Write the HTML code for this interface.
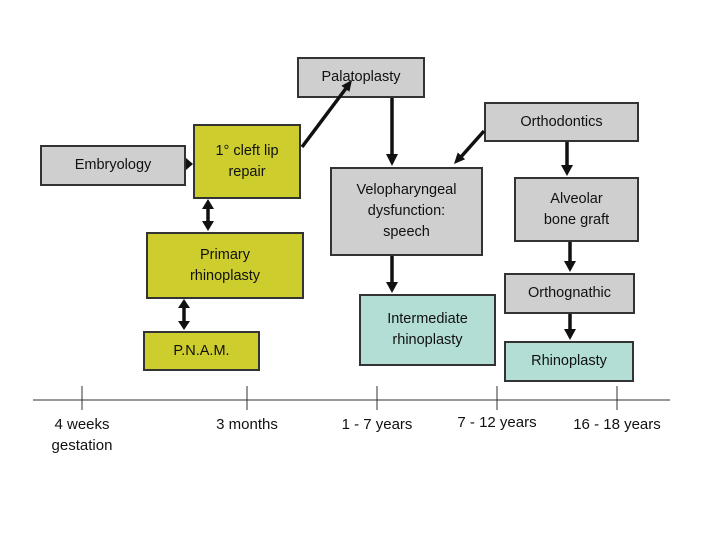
<!DOCTYPE html><html><head><style>
body{margin:0;width:720px;height:540px;background:#fff;overflow:hidden;position:relative;font-family:"Liberation Sans",sans-serif}
.b{position:absolute;box-sizing:border-box;border:2px solid #333;display:flex;align-items:center;justify-content:center;text-align:center;font-size:14.5px;line-height:21px;color:#111}
.g{background:#cfcfcf}.y{background:#cdcd2e}.t{background:#b2ded6}
.l{position:absolute;font-size:15px;text-align:center;line-height:21px;color:#111}
</style></head><body>
<div class="b g" style="left:40px;top:145px;width:146px;height:41px">Embryology</div>
<div class="b y" style="left:193px;top:124px;width:108px;height:75px">1° cleft lip<br>repair</div>
<div class="b y" style="left:146px;top:232px;width:158px;height:67px">Primary<br>rhinoplasty</div>
<div class="b y" style="left:143px;top:331px;width:117px;height:40px">P.N.A.M.</div>
<div class="b g" style="left:297px;top:57px;width:128px;height:41px">Palatoplasty</div>
<div class="b g" style="left:484px;top:102px;width:155px;height:40px">Orthodontics</div>
<div class="b g" style="left:330px;top:167px;width:153px;height:89px">Velopharyngeal<br>dysfunction:<br>speech</div>
<div class="b g" style="left:514px;top:177px;width:125px;height:65px">Alveolar<br>bone graft</div>
<div class="b g" style="left:504px;top:273px;width:131px;height:41px">Orthognathic</div>
<div class="b t" style="left:359px;top:294px;width:137px;height:72px">Intermediate<br>rhinoplasty</div>
<div class="b t" style="left:504px;top:341px;width:130px;height:41px">Rhinoplasty</div>
<svg width="720" height="540" style="position:absolute;left:0;top:0">
<g stroke="#111" stroke-width="3.5" fill="none">
<line x1="186" y1="164" x2="188" y2="164"/>
<line x1="208" y1="205" x2="208" y2="225"/>
<line x1="184" y1="305" x2="184" y2="324"/>
<line x1="302" y1="147" x2="347" y2="87"/>
<line x1="392" y1="98" x2="392" y2="156"/>
<line x1="484" y1="131" x2="460" y2="158"/>
<line x1="567" y1="142" x2="567" y2="167"/>
<line x1="570" y1="242" x2="570" y2="263"/>
<line x1="570" y1="314" x2="570" y2="331"/>
<line x1="392" y1="256" x2="392" y2="284"/>
</g>
<g fill="#111">
<polygon points="186,158 193,164 186,170"/>
<polygon points="202,209 208,199 214,209"/><polygon points="202,221 208,231 214,221"/>
<polygon points="178,308 184,299 190,308"/><polygon points="178,321 184,330 190,321"/>
<polygon points="352,80 349.4,91.8 341.4,85.8"/>
<polygon points="386,154 392,166 398,154"/>
<polygon points="454,164 465.1,159.3 457.7,152.5"/>
<polygon points="561,165 567,176 573,165"/>
<polygon points="564,261 570,272 576,261"/>
<polygon points="564,329 570,340 576,329"/>
<polygon points="386,282 392,293 398,282"/>
</g>
<g stroke="#333" stroke-width="1">
<line x1="33" y1="400" x2="670" y2="400"/>
<line x1="82" y1="386" x2="82" y2="410"/><line x1="247" y1="386" x2="247" y2="410"/>
<line x1="377" y1="386" x2="377" y2="410"/><line x1="497" y1="386" x2="497" y2="410"/>
<line x1="617" y1="386" x2="617" y2="410"/>
</g></svg>
<div class="l" style="left:32px;top:414px;width:100px">4 weeks<br>gestation</div>
<div class="l" style="left:197px;top:414px;width:100px">3 months</div>
<div class="l" style="left:327px;top:414px;width:100px">1 - 7 years</div>
<div class="l" style="left:447px;top:412px;width:100px">7 - 12 years</div>
<div class="l" style="left:562px;top:414px;width:110px">16 - 18 years</div>
</body></html>
